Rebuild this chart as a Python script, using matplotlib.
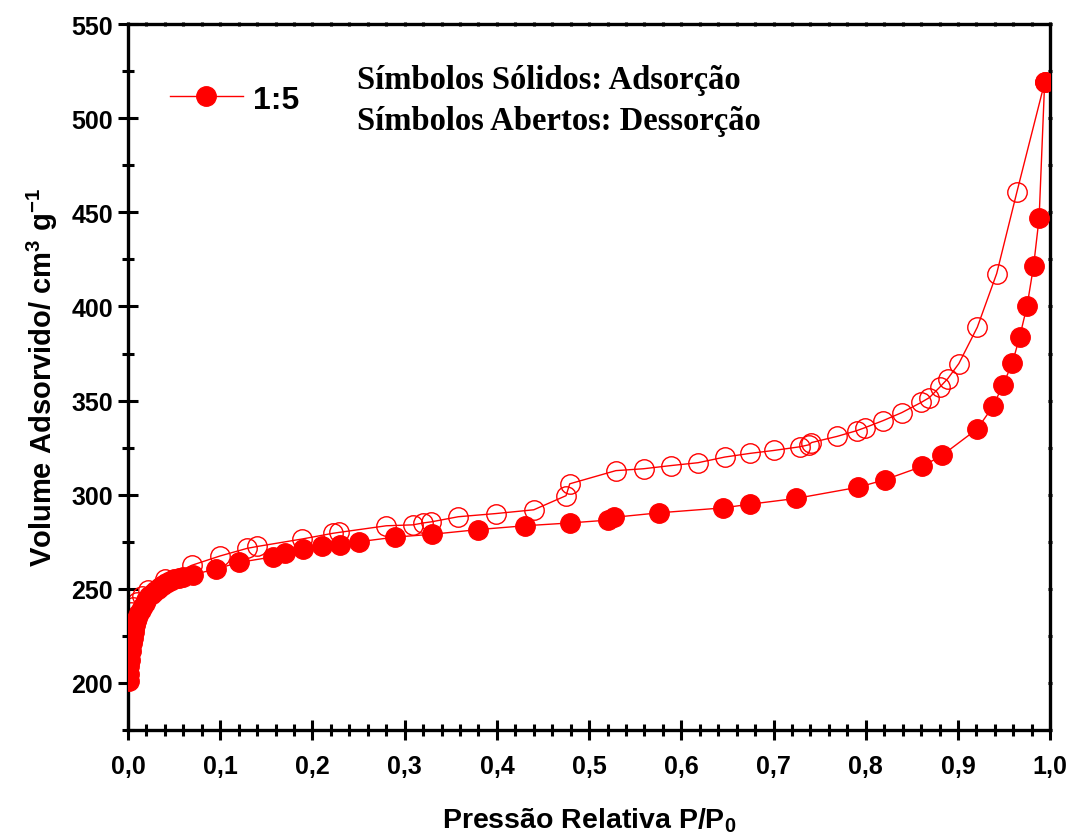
import numpy as np
import matplotlib
matplotlib.use("Agg")
import matplotlib.pyplot as plt
from matplotlib.ticker import MultipleLocator, FuncFormatter

# --- Isotherm data (P/P0, cm3/g) ---
ads_p = [0.0005, 0.001, 0.0015, 0.002, 0.003, 0.004, 0.005, 0.006, 0.007,
         0.008, 0.009, 0.010, 0.012, 0.014, 0.016, 0.018, 0.020, 0.023,
         0.026, 0.029, 0.032, 0.035, 0.038, 0.041, 0.045, 0.050, 0.055,
         0.060, 0.070, 0.095, 0.120, 0.157, 0.170, 0.190, 0.210, 0.230,
         0.250, 0.290, 0.330, 0.380, 0.430, 0.479, 0.520, 0.527, 0.576,
         0.645, 0.675, 0.724, 0.792, 0.821, 0.861, 0.883, 0.921, 0.938,
         0.949, 0.959, 0.967, 0.975, 0.982, 0.988, 0.994]
ads_v = [201.0, 205.0, 209.0, 212.0, 217.0, 221.0, 224.0, 227.0, 229.0,
         231.0, 233.0, 234.5, 237.0, 239.0, 241.0, 242.5, 244.0, 246.0,
         247.5, 249.0, 250.0, 251.0, 252.0, 253.0, 254.0, 255.0, 256.0,
         256.5, 257.5, 260.5, 264.0, 267.0, 269.0, 271.0, 272.5, 273.5,
         275.0, 277.5, 279.0, 281.5, 283.5, 285.0, 286.5, 288.0, 290.4,
         293.0, 295.0, 298.0, 304.0, 308.0, 315.0, 321.0, 335.0, 347.0,
         358.5, 370.0, 384.0, 400.5, 421.5, 447.0, 519.0]

des_p = [0.994, 0.964, 0.942, 0.921, 0.901, 0.889, 0.880, 0.869, 0.860,
         0.839, 0.819, 0.799, 0.790, 0.769, 0.741, 0.739, 0.729, 0.700,
         0.675, 0.647, 0.618, 0.589, 0.559, 0.529, 0.479, 0.475, 0.440,
         0.399, 0.358, 0.329, 0.320, 0.309, 0.280, 0.229, 0.222, 0.189,
         0.140, 0.129, 0.100, 0.069, 0.040, 0.022, 0.015, 0.010, 0.0055,
         0.003]
des_v = [519.0, 461.0, 417.5, 389.0, 369.7, 361.7, 357.0, 351.6, 349.0,
         343.6, 339.4, 335.6, 334.0, 331.0, 327.7, 326.6, 325.5, 323.5,
         322.0, 320.0, 317.0, 315.5, 313.8, 312.8, 305.8, 299.5, 292.0,
         290.0, 288.3, 285.6, 285.0, 284.0, 283.5, 280.0, 279.5, 276.5,
         272.5, 271.5, 267.5, 262.5, 255.3, 249.5, 246.0, 243.0, 240.4,
         237.8]

red = "#ff0000"

plt.rcParams["mathtext.fontset"] = "custom"
plt.rcParams["mathtext.rm"] = "Liberation Sans:bold"
plt.rcParams["mathtext.bf"] = "Liberation Sans:bold"
plt.rcParams["mathtext.default"] = "rm"

fig = plt.figure(figsize=(10.76, 8.37), dpi=100)
ax = fig.add_axes([0.119, 0.1266, 0.857, 0.8434])

ax.plot(ads_p, ads_v, "-o", color=red, lw=1.0, ms=14, mfc=red, mec=red,
        label="1:5", zorder=3)
ax.plot(des_p, des_v, "-o", color=red, lw=1.0, ms=14, mfc="none", mec=red,
        mew=1.0, zorder=2)

ax.set_xlim(0, 1.0)
ax.set_ylim(175, 550)

ax.xaxis.set_major_locator(MultipleLocator(0.1))
ax.xaxis.set_minor_locator(MultipleLocator(0.02))
ax.yaxis.set_major_locator(MultipleLocator(50))
ax.yaxis.set_minor_locator(MultipleLocator(25))
ax.xaxis.set_major_formatter(FuncFormatter(lambda v, p: f"{v:.1f}".replace(".", ",")))
ax.yaxis.set_major_formatter(FuncFormatter(lambda v, p: "" if v < 200 else f"{v:.0f}"))

ax.tick_params(which="major", direction="inout", length=14, width=2.2,
               labelsize=18)
ax.tick_params(axis="x", which="major", pad=10)
ax.tick_params(axis="y", which="major", pad=4)
ax.tick_params(which="minor", direction="inout", length=9, width=2.2)
ax.tick_params(which="both", top=True, right=True,
               labeltop=False, labelright=False)
for lab in ax.get_xticklabels() + ax.get_yticklabels():
    lab.set_fontweight("bold")
    lab.set_fontfamily("Liberation Sans")
# only small marks on top and right spines
for t in ax.xaxis.get_major_ticks() + ax.xaxis.get_minor_ticks():
    t.tick2line.set_markersize(3)
for t in ax.yaxis.get_major_ticks() + ax.yaxis.get_minor_ticks():
    t.tick2line.set_markersize(3)

for s in ax.spines.values():
    s.set_linewidth(2.4)

ax.set_xlabel(r"Pressão Relativa P/P$_0$", fontsize=20.5, fontweight="bold",
              family="Liberation Sans", labelpad=20)
ax.set_ylabel(r"Volume Adsorvido/ cm$^3$ g$^{-1}$", fontsize=21,
              fontweight="bold", family="Liberation Sans", labelpad=8)

leg = ax.legend(loc="upper left", bbox_to_anchor=(0.014, 0.955), frameon=False,
                handlelength=2.3, handletextpad=0.3,
                prop={"family": "Liberation Sans", "weight": "bold", "size": 23})

ax.text(0.248, 0.921, "Símbolos Sólidos: Adsorção", transform=ax.transAxes,
        family="Liberation Serif", fontweight="bold", fontsize=23.5, va="center")
ax.text(0.248, 0.864, "Símbolos Abertos: Dessorção", transform=ax.transAxes,
        family="Liberation Serif", fontweight="bold", fontsize=23.5, va="center")

fig.savefig("out.png", dpi=100)
